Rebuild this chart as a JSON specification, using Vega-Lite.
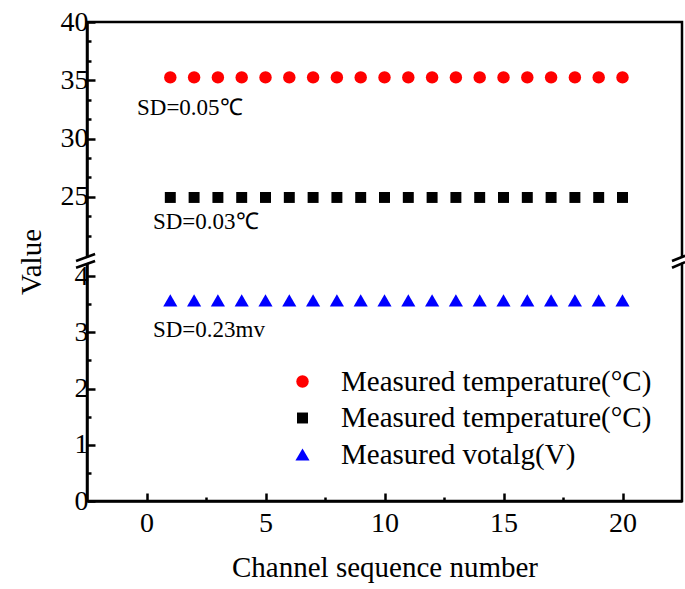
{
  "$schema": "https://vega.github.io/schema/vega-lite/v6.json",
  "width": 595,
  "height": 479,
  "autosize": "none",
  "padding": {"left": 87, "top": 22, "right": 3, "bottom": 88},
  "background": "white",
  "config": {
    "view": {"stroke": "black", "strokeWidth": 2.5},
    "font": "Liberation Serif",
    "axis": {
      "grid": false, "domainColor": "black", "domainWidth": 2.5,
      "tickColor": "black", "tickWidth": 2.5, "labelColor": "black", "titleColor": "black",
      "labelFont": "Liberation Serif", "titleFont": "Liberation Serif", "titleFontWeight": "normal",
      "labelFontSize": 28, "titleFontSize": 29
    },
    "legend": {
      "orient": "none", "legendX": 201, "legendY": 345, "title": null,
      "labelFont": "Liberation Serif", "labelFontSize": 29, "labelColor": "black", "labelLimit": 500,
      "symbolSize": 100, "symbolStrokeWidth": 0, "symbolOpacity": 1,
      "rowPadding": 6.5, "labelOffset": 24, "padding": 0
    }
  },
  "datasets": {
    "points": [
      {"ch": 1, "v": 35.25, "s": "T35"}, {"ch": 2, "v": 35.25, "s": "T35"}, {"ch": 3, "v": 35.25, "s": "T35"}, {"ch": 4, "v": 35.25, "s": "T35"}, {"ch": 5, "v": 35.25, "s": "T35"},
      {"ch": 6, "v": 35.25, "s": "T35"}, {"ch": 7, "v": 35.25, "s": "T35"}, {"ch": 8, "v": 35.25, "s": "T35"}, {"ch": 9, "v": 35.25, "s": "T35"}, {"ch": 10, "v": 35.25, "s": "T35"},
      {"ch": 11, "v": 35.25, "s": "T35"}, {"ch": 12, "v": 35.25, "s": "T35"}, {"ch": 13, "v": 35.25, "s": "T35"}, {"ch": 14, "v": 35.25, "s": "T35"}, {"ch": 15, "v": 35.25, "s": "T35"},
      {"ch": 16, "v": 35.25, "s": "T35"}, {"ch": 17, "v": 35.25, "s": "T35"}, {"ch": 18, "v": 35.25, "s": "T35"}, {"ch": 19, "v": 35.25, "s": "T35"}, {"ch": 20, "v": 35.25, "s": "T35"},
      {"ch": 1, "v": 24.95, "s": "T25"}, {"ch": 2, "v": 24.95, "s": "T25"}, {"ch": 3, "v": 24.95, "s": "T25"}, {"ch": 4, "v": 24.95, "s": "T25"}, {"ch": 5, "v": 24.95, "s": "T25"},
      {"ch": 6, "v": 24.95, "s": "T25"}, {"ch": 7, "v": 24.95, "s": "T25"}, {"ch": 8, "v": 24.95, "s": "T25"}, {"ch": 9, "v": 24.95, "s": "T25"}, {"ch": 10, "v": 24.95, "s": "T25"},
      {"ch": 11, "v": 24.95, "s": "T25"}, {"ch": 12, "v": 24.95, "s": "T25"}, {"ch": 13, "v": 24.95, "s": "T25"}, {"ch": 14, "v": 24.95, "s": "T25"}, {"ch": 15, "v": 24.95, "s": "T25"},
      {"ch": 16, "v": 24.95, "s": "T25"}, {"ch": 17, "v": 24.95, "s": "T25"}, {"ch": 18, "v": 24.95, "s": "T25"}, {"ch": 19, "v": 24.95, "s": "T25"}, {"ch": 20, "v": 24.95, "s": "T25"},
      {"ch": 1, "v": 3.57, "s": "V"}, {"ch": 2, "v": 3.57, "s": "V"}, {"ch": 3, "v": 3.57, "s": "V"}, {"ch": 4, "v": 3.57, "s": "V"}, {"ch": 5, "v": 3.57, "s": "V"},
      {"ch": 6, "v": 3.57, "s": "V"}, {"ch": 7, "v": 3.57, "s": "V"}, {"ch": 8, "v": 3.57, "s": "V"}, {"ch": 9, "v": 3.57, "s": "V"}, {"ch": 10, "v": 3.57, "s": "V"},
      {"ch": 11, "v": 3.57, "s": "V"}, {"ch": 12, "v": 3.57, "s": "V"}, {"ch": 13, "v": 3.57, "s": "V"}, {"ch": 14, "v": 3.57, "s": "V"}, {"ch": 15, "v": 3.57, "s": "V"},
      {"ch": 16, "v": 3.57, "s": "V"}, {"ch": 17, "v": 3.57, "s": "V"}, {"ch": 18, "v": 3.57, "s": "V"}, {"ch": 19, "v": 3.57, "s": "V"}, {"ch": 20, "v": 3.57, "s": "V"}
    ],
    "notes": [
      {"x": -0.4, "y": 32.6, "t": "SD=0.05℃"},
      {"x": 0.27, "y": 22.85, "t": "SD=0.03℃"},
      {"x": 0.27, "y": 3.04, "t": "SD=0.23mv"}
    ],
    "breakLines": [
      {"x": -2.96, "x2": -2.16, "y": 19.5, "y2": 20.1},
      {"x": -2.96, "x2": -2.16, "y": 4.15, "y2": 4.27},
      {"x": 22.08, "x2": 22.63, "y": 19.5, "y2": 19.95},
      {"x": 22.08, "x2": 22.63, "y": 4.15, "y2": 4.25}
    ],
    "breakGaps": [
      {"x": -2.96, "x2": -2.16, "y": 4.21, "y2": 19.8},
      {"x": 22.08, "x2": 22.63, "y": 4.21, "y2": 19.75}
    ]
  },
  "layer": [
    {
      "data": {"name": "points"},
      "mark": {"type": "point", "filled": true, "opacity": 1},
      "encoding": {
        "x": {"field": "ch", "type": "quantitative",
              "scale": {"domain": [-2.5, 22.5], "nice": false, "zero": false},
              "axis": {"orient": "bottom", "values": [0, 5, 10, 15, 20], "tickSize": -8, "labelPadding": 16, "labelFont": "Liberation Serif", "title": "Channel sequence number", "titlePadding": 16}},
        "y": {"field": "v", "type": "quantitative",
              "scale": {"domain": [0, 4.27, 19.5, 40], "range": [479, 239, 239, 0], "nice": false, "zero": false},
              "axis": {"orient": "left", "values": [0, 1, 2, 3, 4, 25, 30, 35, 40], "tickSize": -8, "labelPadding": 7, "labelFont": "Liberation Serif", "title": "Value", "titlePadding": 14}},
        "color": {"field": "s", "type": "nominal", "scale": {"domain": ["T35", "T25", "V"], "range": ["#ff0000", "#000000", "#0000ff"]},
                  "legend": {"title": null, "labelExpr": "datum.label == 'V' ? 'Measured votalg(V)' : 'Measured temperature(°C)'"}},
        "shape": {"field": "s", "type": "nominal", "scale": {"domain": ["T35", "T25", "V"], "range": ["circle", "square", "triangle-up"]},
                  "legend": {"title": null, "labelExpr": "datum.label == 'V' ? 'Measured votalg(V)' : 'Measured temperature(°C)'"}},
        "size": {"field": "s", "type": "ordinal", "scale": {"type": "ordinal", "domain": ["T35", "T25", "V"], "range": [155, 120, 200]}, "legend": null}
      }
    },
    {
      "data": {"name": "points"},
      "mark": {"type": "point", "opacity": 0},
      "encoding": {
        "x": {"field": "ch", "type": "quantitative",
              "scale": {"domain": [-2.5, 22.5], "nice": false, "zero": false},
              "axis": {"orient": "bottom", "values": [2.5, 7.5, 12.5, 17.5], "tickSize": -4, "labels": false, "domain": false, "title": null}},
        "y": {"field": "v", "type": "quantitative",
              "scale": {"domain": [0, 4.27, 19.5, 40], "range": [479, 239, 239, 0], "nice": false, "zero": false},
              "axis": {"orient": "left", "values": [0.5, 1.5, 2.5, 3.5, 21.667, 23.333, 26.667, 28.333, 31.667, 33.333, 36.667, 38.333], "tickSize": -4, "labels": false, "domain": false, "title": null}}
      }
    },
    {
      "data": {"name": "notes"},
      "mark": {"type": "text", "align": "left", "baseline": "middle", "font": "Liberation Serif", "fontSize": 23, "color": "black"},
      "encoding": {
        "x": {"field": "x", "type": "quantitative", "axis": null},
        "y": {"field": "y", "type": "quantitative", "axis": null},
        "text": {"field": "t"}
      }
    },
    {
      "data": {"name": "breakGaps"},
      "mark": {"type": "rule", "color": "white", "strokeWidth": 5},
      "encoding": {
        "x": {"field": "x", "type": "quantitative", "axis": null},
        "x2": {"field": "x2"},
        "y": {"field": "y", "type": "quantitative", "axis": null},
        "y2": {"field": "y2"}
      }
    },
    {
      "data": {"name": "breakLines"},
      "mark": {"type": "rule", "color": "black", "strokeWidth": 2.5},
      "encoding": {
        "x": {"field": "x", "type": "quantitative", "axis": null},
        "x2": {"field": "x2"},
        "y": {"field": "y", "type": "quantitative", "axis": null},
        "y2": {"field": "y2"}
      }
    }
  ],
  "resolve": {"axis": {"x": "independent", "y": "independent"}}
}
